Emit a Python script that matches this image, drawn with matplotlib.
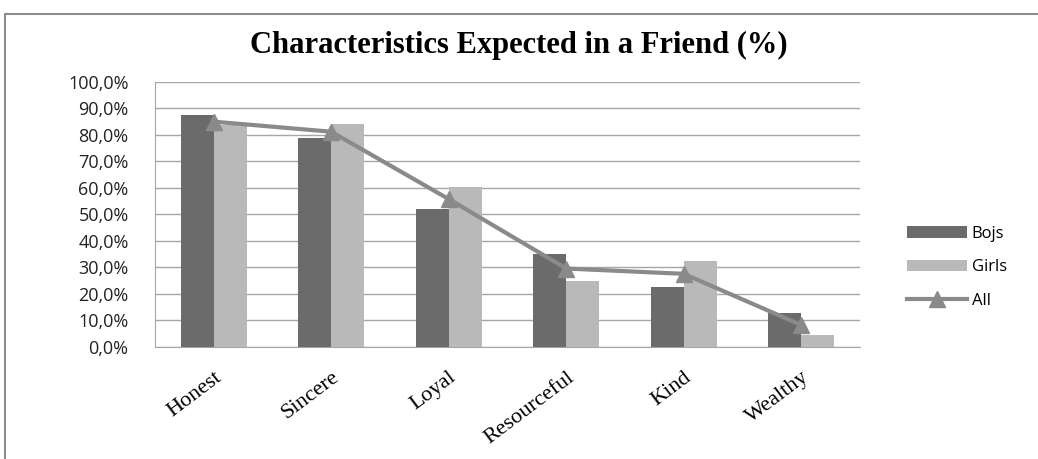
import matplotlib.pyplot as plt
import numpy as np
from matplotlib.patches import Rectangle
from matplotlib.ticker import FuncFormatter

categories = ["Honest", "Sincere", "Loyal", "Resourceful", "Kind", "Wealthy"]
boys = [87.5, 79.0, 52.2, 35.1, 22.5, 12.9]
girls = [83.6, 84.3, 60.2, 24.9, 32.4, 4.5]
all_ = [85.0, 81.2, 55.8, 29.6, 27.6, 8.3]

fig = plt.figure(figsize=(10.38, 4.59), dpi=100)
ax = fig.add_axes([0.1493, 0.244, 0.6792, 0.5776])

# outer chart frame
fig.patches.append(Rectangle((5 / 1038, -0.05), 1.1, 1 - 14 / 459 + 0.05,
                             transform=fig.transFigure, fill=False,
                             edgecolor="#8c8c8c", linewidth=1.5))

x = np.arange(len(categories))
w = 0.28
b1 = ax.bar(x - w / 2, boys, w, color="#6b6b6b", label="Bojs", zorder=3)
b2 = ax.bar(x + w / 2, girls, w, color="#b9b9b9", label="Girls", zorder=3)
l1, = ax.plot(x, all_, color="#8a8a8a", linewidth=3, marker="^", markersize=11,
              label="All", zorder=4)

ax.set_xlim(-0.5, len(categories) - 0.5)
ax.set_ylim(0, 100)
ax.set_yticks(np.arange(0, 101, 10))
ax.yaxis.set_major_formatter(FuncFormatter(lambda v, p: f"{v:.1f}%".replace(".", ",")))
ax.grid(axis="y", color="#a6a6a6", linewidth=1, zorder=0)
for s in ["top", "right"]:
    ax.spines[s].set_visible(False)
ax.spines["left"].set_color("#a6a6a6")
ax.spines["bottom"].set_color("#a6a6a6")
ax.tick_params(axis="both", length=0)
ax.tick_params(axis="y", labelsize=13, pad=19, labelcolor="#222222")
for lbl in ax.get_yticklabels():
    lbl.set_family("Open Sans")

ax.set_xticks(x)
ax.set_xticklabels(categories, rotation=37, ha="right", rotation_mode="anchor",
                   family="Liberation Serif", fontsize=16)
ax.tick_params(axis="x", pad=15)

fig.text(0.5, 1 - 45 / 459, "Characteristics Expected in a Friend (%)",
         ha="center", va="center", family="Liberation Serif",
         fontweight="bold", fontsize=22)

leg = ax.legend([b1, b2, l1], ["Bojs", "Girls", "All"],
                loc="center left", bbox_to_anchor=(1.045, 0.30), frameon=False,
                prop={"family": "Open Sans", "size": 12},
                labelspacing=1.05, handlelength=3.6, handletextpad=0.3)

plt.savefig("out.png", dpi=100)
